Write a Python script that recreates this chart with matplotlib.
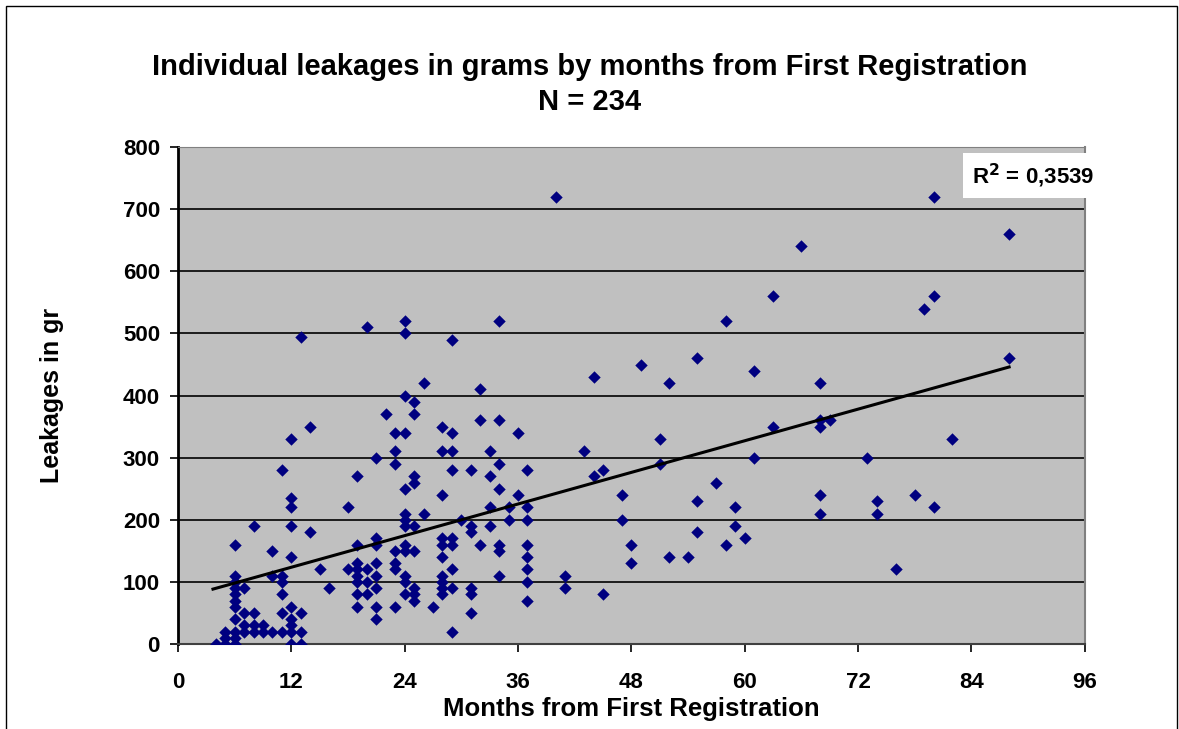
import matplotlib
matplotlib.use("Agg")
import matplotlib.pyplot as plt
import numpy as np
from matplotlib.patches import Rectangle

plt.rcParams['font.family'] = ['Liberation Sans', 'DejaVu Sans']
plt.rcParams['font.weight'] = 'bold'

# months from first registration -> leakage values (g)
points = {
    4: [0],
    5: [0, 10, 20],
    6: [0, 10, 20, 40, 60, 70, 80, 90, 100, 110, 160],
    7: [20, 30, 50, 90],
    8: [20, 30, 50, 190],
    9: [20, 30],
    10: [20, 110, 150],
    11: [20, 50, 80, 100, 110, 280],
    12: [0, 20, 30, 40, 60, 140, 190, 220, 235, 330],
    13: [0, 20, 50, 495],
    14: [180, 350],
    15: [120],
    16: [90],
    18: [120, 220],
    19: [60, 80, 100, 110, 120, 130, 160, 270],
    20: [80, 100, 120, 510],
    21: [40, 60, 90, 110, 130, 160, 170, 300],
    22: [370],
    23: [60, 120, 130, 150, 290, 310, 340],
    24: [80, 100, 110, 150, 160, 190, 200, 210, 250, 340, 400, 500, 520],
    25: [70, 80, 90, 150, 190, 260, 270, 370, 390],
    26: [210, 420],
    27: [60],
    28: [80, 90, 100, 110, 140, 160, 170, 240, 310, 350],
    29: [20, 90, 120, 160, 170, 280, 310, 340, 490],
    30: [200],
    31: [50, 80, 90, 180, 190, 280],
    32: [160, 360, 410],
    33: [190, 220, 270, 310],
    34: [110, 150, 160, 250, 290, 360, 520],
    35: [200, 220],
    36: [240, 340],
    37: [70, 100, 120, 140, 160, 200, 220, 280],
    40: [720],
    41: [90, 110],
    43: [310],
    44: [270, 430],
    45: [80, 280],
    47: [200, 240],
    48: [130, 160],
    49: [450],
    51: [290, 330],
    52: [140, 420],
    54: [140],
    55: [180, 230, 460],
    57: [260],
    58: [160, 520],
    59: [190, 220],
    60: [170],
    61: [300, 440],
    63: [350, 560],
    66: [640],
    68: [210, 240, 350, 360, 420],
    69: [360],
    73: [300],
    74: [210, 230],
    76: [120],
    78: [240],
    79: [540],
    80: [220, 560, 720],
    82: [330],
    88: [460, 660],
}

months = np.array([m for m, vals in points.items() for _ in vals], dtype=float)
leak = np.array([v for vals in points.values() for v in vals], dtype=float)

r2_label = "R$^{\\mathbf{2}}$ = 0,3539"

fig = plt.figure(figsize=(11.79, 7.29), dpi=100)
ax = fig.add_axes([0.151, 0.1166, 0.769, 0.6816])
ax.set_facecolor('#c0c0c0')

ax.yaxis.grid(True, color='black', linewidth=1.2)
ax.set_axisbelow(True)

ax.scatter(months, leak, marker='D', s=40, color='#000080', zorder=3, linewidths=0)

# linear trend line over the data range
b, a = np.polyfit(months, leak, 1)
xt = np.array([months.min() - 0.3, months.max()])
ax.plot(xt, a + b * xt, color='black', linewidth=2.2, zorder=4)

ax.set_xlim(0, 96)
ax.set_ylim(0, 800)
ax.set_xticks(np.arange(0, 97, 12))
ax.set_yticks(np.arange(0, 801, 100))
ax.tick_params(labelsize=16, length=6, width=1.2, direction='out')
ax.tick_params(axis='x', pad=14)
ax.tick_params(axis='y', pad=7)
for lab in ax.get_xticklabels() + ax.get_yticklabels():
    lab.set_fontweight('bold')

ax.spines['left'].set_linewidth(2)
ax.spines['left'].set_color('black')
ax.spines['bottom'].set_color('#404040')
ax.spines['bottom'].set_linewidth(1.5)
ax.spines['right'].set_color('#808080')
ax.spines['right'].set_linewidth(1.5)
ax.spines['top'].set_color('#808080')

ax.set_xlabel("Months from First Registration", fontsize=18.5, fontweight='bold', labelpad=3)
ax.set_ylabel("Leakages in gr", fontsize=18, fontweight='bold', labelpad=42)

fig.text(0.5, 0.908, "Individual leakages in grams by months from First Registration",
         ha='center', va='center', fontsize=21, fontweight='bold')
fig.text(0.5, 0.86, "N = 234", ha='center', va='center', fontsize=21, fontweight='bold')

ax.text(0.8755, 0.942, r2_label, transform=ax.transAxes, fontsize=16, fontweight='bold',
        ha='left', va='center', zorder=6,
        bbox=dict(facecolor='white', edgecolor='none', pad=6))

fig.patches.append(Rectangle((6 / 1179, -0.1), 1171 / 1179, 1.1 - 6 / 729,
                             transform=fig.transFigure, fill=False,
                             edgecolor='black', linewidth=1))

fig.savefig("out.png", dpi=100)
